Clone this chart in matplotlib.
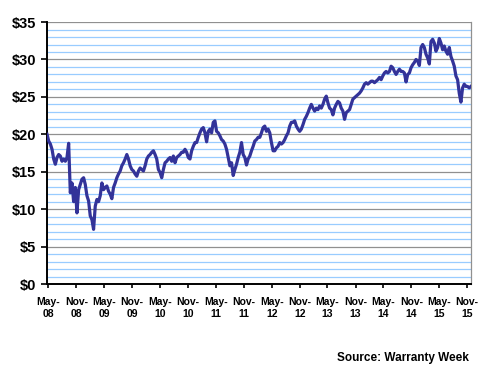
import matplotlib
matplotlib.use('Agg')
import matplotlib.pyplot as plt
from matplotlib.ticker import MultipleLocator, FuncFormatter
import pandas as pd

plt.rcParams['font.family'] = ['Liberation Sans', 'DejaVu Sans']
plt.rcParams['font.weight'] = 'bold'

# share price, roughly every 11 days
p_2008_09 = [20.0, 19.1, 18.7, 18.0, 16.7, 16.0, 16.9, 17.3, 17.1, 16.4,
             16.7, 16.4, 16.9, 18.8, 12.2, 13.5, 11.0, 12.9, 9.5, 12.6,
             13.3, 14.0, 14.2, 13.3, 11.8, 11.1, 9.1, 8.6, 7.3, 10.4,
             11.3, 11.0, 11.8, 13.5, 12.6, 12.9, 13.1, 12.4, 12.0, 11.4,
             12.9, 13.5, 14.2, 14.7, 15.1, 15.8, 16.2, 16.7, 17.3, 16.7,
             15.8]
p_2009_11 = [15.3, 15.1, 14.7, 14.4, 15.1, 15.5, 15.3, 15.1, 15.8, 16.7,
             17.1, 17.3, 17.6, 17.8, 17.3, 16.7, 15.3, 14.9, 14.2, 15.3,
             16.2, 16.4, 16.7, 16.9, 16.4, 17.1, 16.2, 16.9, 17.1, 17.3,
             17.6, 17.6, 18.0, 17.6, 16.9, 16.7, 17.8, 18.4, 18.9, 18.9,
             19.6, 20.2, 20.7, 20.9, 20.2, 19.0, 20.4, 20.7, 20.2, 21.6,
             21.8]
p_2011_12 = [20.4, 20.2, 19.8, 19.3, 19.1, 18.7, 18.0, 16.9, 15.8, 16.2,
             14.5, 15.3, 16.0, 16.9, 17.6, 18.9, 17.3, 16.9, 15.9, 16.7,
             17.1, 17.8, 18.4, 19.1, 19.3, 19.6, 19.6, 20.2, 20.9, 21.1,
             20.4, 20.7, 20.2, 18.9, 17.8, 17.8, 18.2, 18.4, 18.9, 18.7,
             18.9, 19.3, 19.8, 20.2, 21.1, 21.6, 21.6, 21.8, 21.1, 20.7,
             20.4]
p_2012_14 = [20.7, 21.3, 22.0, 22.4, 22.9, 23.5, 24.0, 23.5, 23.1, 23.5,
             23.3, 23.8, 23.5, 24.0, 24.7, 25.1, 24.2, 23.5, 23.3, 22.6,
             23.5, 24.0, 24.4, 24.2, 23.5, 23.1, 22.0, 22.9, 23.1, 23.3,
             24.0, 24.7, 24.9, 25.1, 25.3, 25.5, 25.8, 26.2, 26.7, 26.9,
             26.7, 26.9, 27.1, 27.1, 26.9, 27.1, 27.3, 27.6, 27.3, 27.8,
             28.2]
p_2014_15 = [28.4, 28.2, 28.4, 29.1, 28.9, 28.4, 28.0, 28.4, 28.7, 28.4,
             28.4, 28.2, 27.0, 28.0, 28.2, 28.9, 29.3, 29.6, 30.0, 29.8,
             29.2, 31.6, 32.0, 31.6, 30.7, 30.2, 29.4, 32.4, 32.7, 32.2,
             31.1, 31.6, 32.8, 32.2, 31.3, 31.8, 31.1, 30.7, 31.6, 30.4,
             29.8, 29.1, 27.8, 27.3, 25.5, 24.3, 26.2, 26.7, 26.4, 26.4,
             26.2, 26.4]

price = p_2008_09 + p_2009_11 + p_2011_12 + p_2012_14 + p_2014_15
dates = pd.date_range('2008-04-23', '2015-11-25', periods=len(price))

tick_dates = pd.date_range('2008-05-01', '2015-11-01', freq='6MS')
tick_labels = ['May-\n08', 'Nov-\n08', 'May-\n09', 'Nov-\n09', 'May-\n10', 'Nov-\n10',
               'May-\n11', 'Nov-\n11', 'May-\n12', 'Nov-\n12', 'May-\n13', 'Nov-\n13',
               'May-\n14', 'Nov-\n14', 'May-\n15', 'Nov-\n15']

fig = plt.figure(figsize=(4.8, 3.7), dpi=100)
ax = fig.add_axes([0.098, 0.2324, 0.883, 0.708])

ax.plot(dates, price, color='#333399', lw=2.3, zorder=3)

ax.set_ylim(0, 35)
ax.set_xlim(dates[0], dates[-1])
ax.yaxis.set_major_locator(MultipleLocator(5))
ax.yaxis.set_minor_locator(MultipleLocator(1))
ax.yaxis.set_major_formatter(FuncFormatter(lambda v, p: f'${v:.0f}'))
ax.grid(which='minor', axis='y', color='#99ccff', lw=0.9, zorder=1)
ax.grid(which='major', axis='y', color='#909090', lw=0.9, zorder=2)
ax.tick_params(axis='y', which='minor', length=0)
ax.tick_params(axis='y', which='major', length=4, width=1.2, pad=4, labelsize=10.5)

ax.set_xticks(tick_dates)
ax.set_xticklabels(tick_labels)
ax.tick_params(axis='x', length=3, width=1.2, pad=6, labelsize=7.5)
for lab in ax.get_xticklabels():
    lab.set_linespacing(1.3)

ax.spines['top'].set_visible(False)
ax.spines['right'].set_color('#909090')
ax.spines['right'].set_linewidth(0.9)
ax.spines['left'].set_linewidth(1.4)
ax.spines['bottom'].set_linewidth(1.4)

fig.text(0.977, 0.015, 'Source: Warranty Week', ha='right', va='bottom',
         fontsize=8.5, fontweight='bold')

fig.savefig('out.png', dpi=100)
